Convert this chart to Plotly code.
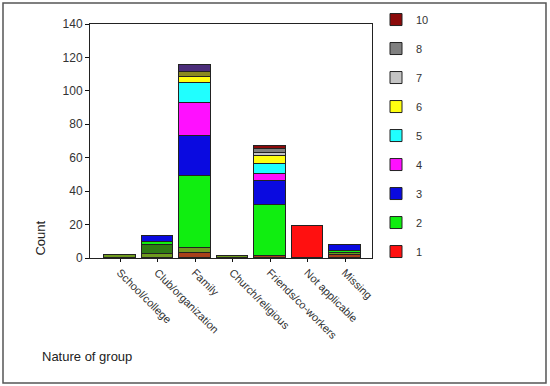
import plotly.graph_objects as go

categories = ["School/college", "Club/organization", "Family", "Church/religious",
              "Friends/co-workers", "Not applicable", "Missing"]

# stacked series, bottom to top
s_brown   = [0, 0, 3, 0, 1, 0, 1.5]
s_one     = [0, 0, 0, 0, 0, 19, 0]
s_olive   = [1.5, 2.5, 3, 1, 0, 0, 1.5]
s_dkgreen = [0, 5, 0, 0, 0, 0, 0]
s_two     = [0, 2, 43, 0, 31, 0, 1]
s_three   = [0, 3.5, 24, 0, 14, 0, 4]
s_four    = [0, 0, 20, 0, 4, 0, 0]
s_five    = [0, 0, 12, 0, 6, 0, 0]
s_six     = [0, 0, 3, 0, 5, 0, 0]
s_seven   = [0, 0, 0, 0, 2, 0, 0]
s_olive2  = [0, 0, 3, 0, 0, 0, 0]
s_eight   = [0, 0, 0, 0, 2, 0, 0]
s_purple  = [0, 0, 4.5, 0, 0, 0, 0]
s_ten     = [0, 0, 0, 0, 2, 0, 0]

series = [
    ("b", False, "#a8401a", s_brown),
    ("1", True, "#ff1010", s_one),
    ("o", False, "#6f9a1e", s_olive),
    ("d", False, "#2f7a14", s_dkgreen),
    ("2", True, "#10ee10", s_two),
    ("3", True, "#0a0ae0", s_three),
    ("4", True, "#ff10ff", s_four),
    ("5", True, "#20ffff", s_five),
    ("6", True, "#ffff10", s_six),
    ("7", True, "#c4c4c4", s_seven),
    ("o2", False, "#8a8a20", s_olive2),
    ("8", True, "#808080", s_eight),
    ("p", False, "#4b2d7a", s_purple),
    ("10", True, "#8b0a0a", s_ten),
]

fig = go.Figure()
for i, (name, show, color, vals) in enumerate(series):
    fig.add_trace(go.Bar(
        x=categories, y=vals, name=name, showlegend=show, legendgroup=name,
        legendrank=1000 - i,
        marker=dict(color=color, line=dict(color="#222222", width=1)),
        width=0.85,
    ))

font = "Liberation Sans, Arial, sans-serif"
fig.update_layout(
    width=550, height=386,
    barmode="stack",
    paper_bgcolor="white", plot_bgcolor="white",
    margin=dict(l=90, r=178, t=24, b=128, autoexpand=False),
    font=dict(family=font, size=11, color="#222222"),
    showlegend=True,
    legend=dict(x=1.0142, y=1.081, xanchor="left", yanchor="top", maxheight=400,
                traceorder="grouped", tracegroupgap=10,
                font=dict(size=11, color="#333333"),
                bgcolor="rgba(0,0,0,0)"),
    xaxis=dict(range=[-0.8, 6.72], tickangle=45, showline=True, linecolor="#222222",
               linewidth=1, mirror=True, ticks="outside", ticklen=3, tickcolor="#111111",
               showgrid=False, tickfont=dict(size=11, color="#333333")),
    yaxis=dict(range=[0, 140], dtick=20, showline=True, linecolor="#222222",
               linewidth=1, mirror=True, ticks="outside", ticklen=4, tickcolor="#111111",
               showgrid=False, zeroline=False, tickfont=dict(size=12, color="#333333")),
    bargap=0,
)

fig.add_annotation(text="Count", xref="paper", yref="paper", x=-0.177, y=0.0,
                   xanchor="center", yanchor="bottom", textangle=-90, showarrow=False,
                   font=dict(size=13, color="#222222"))
fig.add_annotation(text="Nature of group", xref="paper", yref="paper", x=-0.177, y=-0.423,
                   xanchor="left", yanchor="middle", showarrow=False,
                   font=dict(size=13, color="#222222"))

fig.add_shape(type="rect", xref="paper", yref="paper", x0=-0.3085, x1=1.617,
              y0=-0.534, y1=1.0897, line=dict(color="#555555", width=1.5))

fig.write_html("out.html", config={"displayModeBar": False},
               post_script="document.body.style.margin='0';document.body.style.overflow='hidden';")
